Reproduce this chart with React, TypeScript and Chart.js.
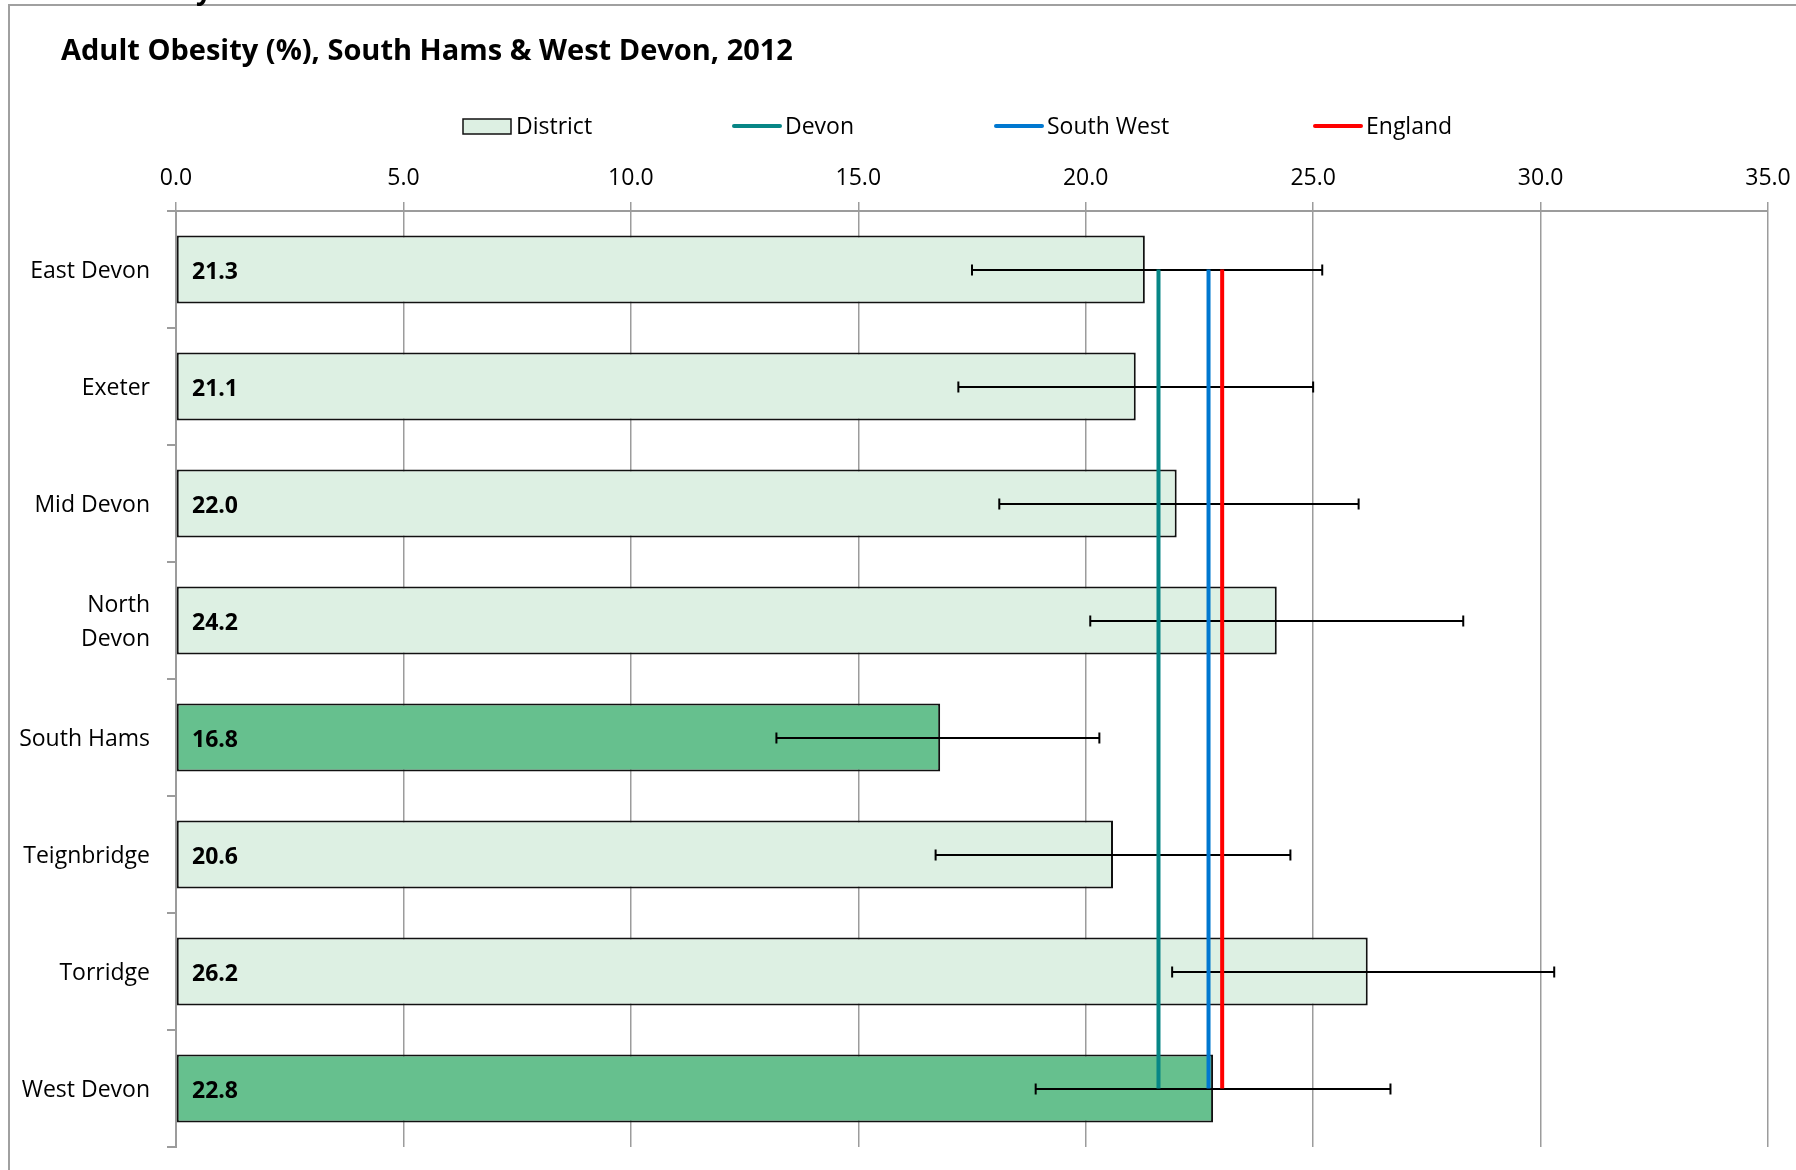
import React, { useEffect, useRef } from 'react';
import { Chart, registerables } from 'chart.js';

Chart.register(...registerables);

// ---- data ----
const TITLE = 'Adult Obesity (%), South Hams & West Devon, 2012';
const CATEGORIES = ['East Devon', 'Exeter', 'Mid Devon', 'North Devon', 'South Hams', 'Teignbridge', 'Torridge', 'West Devon'];
const CATEGORY_LABELS: (string | string[])[] = ['East Devon', 'Exeter', 'Mid Devon', ['North', 'Devon'], 'South Hams', 'Teignbridge', 'Torridge', 'West Devon'];
const DISTRICT_VALUES = [21.3, 21.1, 22.0, 24.2, 16.8, 20.6, 26.2, 22.8];
const CI_LOWER = [17.5, 17.2, 18.1, 20.1, 13.2, 16.7, 21.9, 18.9];
const CI_UPPER = [25.2, 25.0, 26.0, 28.3, 20.3, 24.5, 30.3, 26.7];
const HIGHLIGHTED = ['South Hams', 'West Devon'];
const DEVON_VALUE = 21.6;
const SOUTH_WEST_VALUE = 22.7;
const ENGLAND_VALUE = 23.0;
const X_MIN = 0;
const X_MAX = 35;
const X_STEP = 5;
const LEGEND_LABELS = ['District', 'Devon', 'South West', 'England'];

// ---- styles ----
const FONT = '"Open Sans"';
const LIGHT = '#DDF0E3';
const DARK = '#66C08E';
const TEAL = '#078686';
const BLUE = '#0078D0';
const RED = '#FF0000';
const GRID = '#9c9c9c';

const decorPlugin = {
  id: 'decor',
  beforeDraw(chart: any) {
    const ctx = chart.ctx as CanvasRenderingContext2D;
    ctx.save();
    ctx.fillStyle = '#ffffff';
    ctx.fillRect(0, 0, chart.width, chart.height);
    // frame
    ctx.strokeStyle = '#a0a0a0';
    ctx.lineWidth = 2;
    ctx.beginPath();
    ctx.moveTo(9, chart.height);
    ctx.lineTo(9, 5);
    ctx.lineTo(chart.width, 5);
    ctx.stroke();
    // cut-off heading fragment above the frame
    ctx.fillStyle = '#000';
    ctx.textBaseline = 'alphabetic';
    ctx.textAlign = 'left';
    ctx.font = `bold 28px ${FONT}`;
    ctx.fillText('y', 196, -1);
    // title
    ctx.font = `bold 29px ${FONT}`;
    ctx.fillText(TITLE, 61, 60);
    // legend
    const legendX = [463, 732, 994, 1313];
    const colors = [null, TEAL, BLUE, RED];
    ctx.font = `23px ${FONT}`;
    LEGEND_LABELS.forEach((label, i) => {
      const x = legendX[i];
      if (i === 0) {
        ctx.fillStyle = LIGHT;
        ctx.fillRect(x, 119, 48, 15);
        ctx.strokeStyle = '#111';
        ctx.lineWidth = 1.5;
        ctx.strokeRect(x, 119, 48, 15);
      } else {
        ctx.strokeStyle = colors[i] as string;
        ctx.lineWidth = 4;
        ctx.lineCap = 'round';
        ctx.beginPath();
        ctx.moveTo(x + 2, 126);
        ctx.lineTo(x + 48, 126);
        ctx.stroke();
        ctx.lineCap = 'butt';
      }
      ctx.fillStyle = '#000';
      ctx.fillText(label, x + 53, 134);
    });
    ctx.restore();
  },
  afterDatasetDraw(chart: any, args: any) {
    if (args.index !== 0) return;
    const ctx = chart.ctx as CanvasRenderingContext2D;
    const xs = chart.scales.x;
    const meta = chart.getDatasetMeta(0);
    ctx.save();
    ctx.strokeStyle = '#000';
    ctx.lineWidth = 2;
    meta.data.forEach((bar: any, i: number) => {
      const y = Math.round(bar.y);
      const x1 = xs.getPixelForValue(CI_LOWER[i]);
      const x2 = xs.getPixelForValue(CI_UPPER[i]);
      ctx.beginPath();
      ctx.moveTo(x1, y);
      ctx.lineTo(x2, y);
      ctx.moveTo(x1, y - 5.5);
      ctx.lineTo(x1, y + 5.5);
      ctx.moveTo(x2, y - 5.5);
      ctx.lineTo(x2, y + 5.5);
      ctx.stroke();
    });
    // value labels
    ctx.fillStyle = '#000';
    ctx.font = `bold 23px ${FONT}`;
    ctx.textAlign = 'left';
    ctx.textBaseline = 'middle';
    meta.data.forEach((bar: any, i: number) => {
      ctx.fillText(DISTRICT_VALUES[i].toFixed(1), xs.getPixelForValue(0) + 16, bar.y + 3);
    });
    ctx.restore();
  },
};

function refLine(label: string, value: number, color: string) {
  return {
    type: 'line' as const,
    label,
    data: CATEGORIES.map(() => value),
    indexAxis: 'y' as const,
    borderColor: color,
    backgroundColor: color,
    borderWidth: 4,
    pointRadius: 0,
    pointHoverRadius: 0,
    fill: false,
    tension: 0,
    order: 0,
  };
}

export default function App() {
  const ref = useRef<HTMLCanvasElement | null>(null);
  useEffect(() => {
    if (!ref.current) return;
    const chart = new Chart(ref.current, {
      type: 'bar',
      data: {
        labels: CATEGORY_LABELS as any,
        datasets: [
          {
            type: 'bar',
            label: 'District',
            data: DISTRICT_VALUES,
            backgroundColor: CATEGORIES.map((c) => (HIGHLIGHTED.includes(c) ? DARK : LIGHT)),
            borderColor: '#111',
            borderWidth: 2,
            borderSkipped: false,
            barPercentage: 0.58,
            categoryPercentage: 1,
            order: 1,
          } as any,
          refLine('Devon', DEVON_VALUE, TEAL) as any,
          refLine('South West', SOUTH_WEST_VALUE, BLUE) as any,
          refLine('England', ENGLAND_VALUE, RED) as any,
        ],
      },
      options: {
        indexAxis: 'y',
        responsive: false,
        maintainAspectRatio: false,
        animation: false,
        devicePixelRatio: 1,
        layout: { padding: { left: 0, top: 150, right: 28, bottom: 23 } },
        plugins: {
          legend: { display: false },
          title: { display: false },
          tooltip: { enabled: false },
        },
        scales: {
          x: {
            type: 'linear',
            position: 'top',
            min: X_MIN,
            max: X_MAX,
            ticks: {
              stepSize: X_STEP,
              autoSkip: false,
              maxRotation: 0,
              padding: 10,
              color: '#000',
              font: { family: FONT, size: 23 },
              callback: (v: any) => Number(v).toFixed(1),
            },
            grid: { color: GRID, lineWidth: 1.5, tickLength: 9, drawTicks: true },
            border: { color: GRID, width: 2 },
            afterFit: (s: any) => {
              s.height = 61;
              s.paddingLeft = 0;
              s.paddingRight = 0;
            },
          },
          y: {
            type: 'category',
            position: 'left',
            offset: true,
            ticks: {
              padding: 17,
              labelOffset: 2,
              color: '#000',
              font: { family: FONT, size: 23, lineHeight: 1.45 },
            },
            grid: { drawOnChartArea: false, drawTicks: true, tickLength: 9, color: GRID, lineWidth: 2, offset: true },
            border: { color: GRID, width: 2 },
            afterFit: (s: any) => {
              s.width = 176;
              s.paddingTop = 0;
              s.paddingBottom = 0;
            },
          },
        },
      } as any,
      plugins: [decorPlugin],
    });
    return () => chart.destroy();
  }, []);

  return (
    <div style={{ position: 'absolute', left: 0, top: 0, width: 1796, height: 1170, overflow: 'hidden', background: '#fff' }}>
      <canvas ref={ref} width={1796} height={1170} style={{ display: 'block', width: 1796, height: 1170 }} />
    </div>
  );
}
